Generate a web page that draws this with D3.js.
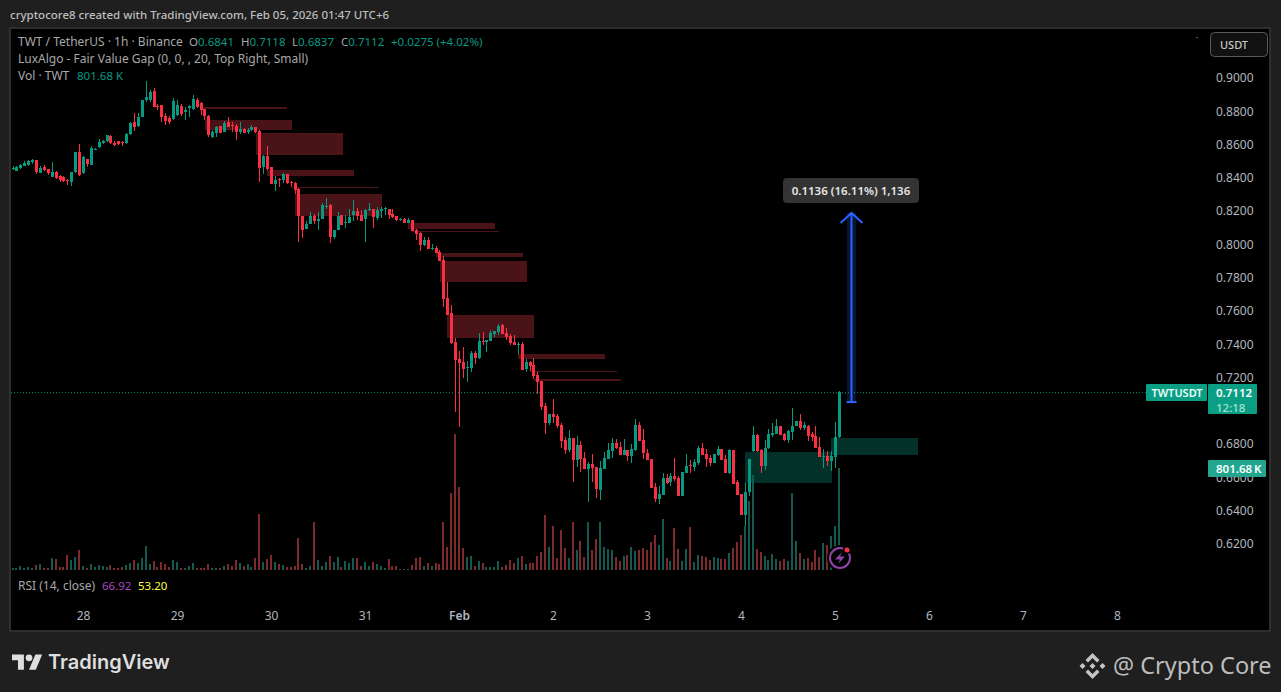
<!DOCTYPE html>
<html>
<head>
<meta charset="utf-8">
<title>TWT / TetherUS</title>
<script src="https://d3js.org/d3.v7.min.js"></script>
<style>
  html, body { margin: 0; padding: 0; background: #1f1f1f; overflow: hidden; }
  text { font-family: "Noto Sans", sans-serif; }
</style>
</head>
<body>
<div id="chart"></div>
<script>
// hourly candles, 27 Jan 06:00 to 5 Feb 01:00 (UTC+6)
var opens = [
  .8455,.8442,.8460,.8472,.8478,.8496,.8508,.8430,.8466,.8454,.8406,.8436,.8412,.8406,.8388,.8376,.8436,.8556,.8430,.8514,
  .8478,.8568,.8586,.8610,.8622,.8652,.8610,.8622,.8616,.8610,.8664,.8736,.8712,.8766,.8868,.8868,.8922,.8832,.8838,.8772,
  .8760,.8754,.8778,.8832,.8796,.8820,.8814,.8868,.8850,.8814,.8772,.8646,.8670,.8712,.8676,.8736,.8718,.8712,.8676,.8694,
  .8676,.8688,.8706,.8682,.8466,.8532,.8466,.8364,.8394,.8388,.8424,.8376,.8370,.8334,.8171,.8093,.8123,.8171,.8141,.8153,
  .8225,.8237,.8045,.8087,.8177,.8129,.8129,.8177,.8201,.8177,.8153,.8207,.8213,.8159,.8201,.8210,.8213,.8183,.8171,.8147,
  .8153,.8129,.8147,.8087,.8069,.7997,.8027,.7973,.7979,.7955,.7906,.7678,.7588,.7414,.7311,.7293,.7257,.7257,.7348,.7317,
  .7420,.7414,.7420,.7462,.7474,.7516,.7468,.7450,.7414,.7396,.7402,.7251,.7293,.7275,.7215,.7179,.7029,.6927,.6981,.6969,
  .6915,.6825,.6765,.6837,.6705,.6795,.6717,.6650,.6681,.6663,.6524,.6650,.6711,.6759,.6807,.6783,.6735,.6765,.6729,.6765,
  .6915,.6825,.6747,.6711,.6542,.6470,.6494,.6596,.6572,.6608,.6596,.6488,.6626,.6675,.6663,.6687,.6777,.6741,.6717,.6687,
  .6735,.6771,.6711,.6626,.6765,.6572,.6500,.6374,.6512,.6759,.6855,.6765,.6669,.6777,.6855,.6861,.6909,.6861,.6825,.6873,
  .6909,.6939,.6897,.6909,.6861,.6849,.6783,.6723,.6729,.6699,.6723,.6841
];
var highs = [
  .8472,.8472,.8484,.8502,.8508,.8514,.8508,.8472,.8478,.8454,.8496,.8442,.8418,.8412,.8394,.8436,.8556,.8604,.8532,.8514,
  .8592,.8580,.8634,.8628,.8658,.8658,.8622,.8622,.8622,.8670,.8736,.8790,.8790,.8868,.8982,.8928,.8940,.8844,.8838,.8790,
  .8772,.8880,.8868,.8844,.8826,.8838,.8898,.8880,.8856,.8814,.8778,.8688,.8712,.8712,.8742,.8766,.8736,.8724,.8736,.8700,
  .8700,.8718,.8706,.8688,.8538,.8592,.8466,.8412,.8400,.8430,.8424,.8382,.8376,.8340,.8171,.8141,.8195,.8183,.8195,.8249,
  .8279,.8243,.8087,.8195,.8177,.8177,.8213,.8267,.8219,.8207,.8213,.8249,.8213,.8225,.8225,.8225,.8213,.8213,.8171,.8159,
  .8159,.8159,.8147,.8093,.8075,.8045,.8045,.8003,.7991,.7967,.7931,.7774,.7636,.7438,.7360,.7384,.7299,.7360,.7360,.7468,
  .7474,.7426,.7486,.7480,.7522,.7522,.7498,.7462,.7456,.7414,.7414,.7311,.7299,.7317,.7233,.7179,.7047,.6981,.7071,.6981,
  .6927,.6843,.6885,.6837,.6849,.6819,.6753,.6693,.6741,.6663,.6699,.6753,.6807,.6837,.6831,.6813,.6831,.6765,.6801,.6951,
  .6933,.6891,.6771,.6711,.6566,.6548,.6626,.6620,.6626,.6717,.6608,.6632,.6741,.6705,.6711,.6789,.6807,.6771,.6735,.6741,
  .6789,.6771,.6735,.6771,.6765,.6584,.6500,.6566,.6711,.6909,.6861,.6771,.6825,.6891,.6927,.6951,.6909,.6867,.6885,.7017,
  .6939,.6981,.6933,.6915,.6873,.6909,.6843,.6771,.6759,.6759,.6933,.7118
];
var lows = [
  .8448,.8442,.8454,.8472,.8472,.8484,.8424,.8430,.8442,.8418,.8406,.8394,.8376,.8376,.8358,.8352,.8430,.8412,.8424,.8466,
  .8478,.8568,.8580,.8604,.8616,.8604,.8592,.8598,.8592,.8604,.8658,.8682,.8706,.8766,.8856,.8856,.8826,.8808,.8736,.8718,
  .8724,.8748,.8772,.8772,.8748,.8766,.8808,.8820,.8778,.8748,.8646,.8640,.8646,.8670,.8676,.8706,.8676,.8628,.8664,.8670,
  .8664,.8682,.8670,.8376,.8424,.8448,.8364,.8322,.8346,.8370,.8364,.8346,.8303,.8015,.8039,.8093,.8123,.8123,.8087,.8153,
  .8213,.8009,.8033,.8087,.8117,.8099,.8129,.8141,.8147,.8141,.8015,.8201,.8099,.8147,.8159,.8177,.8153,.8159,.8141,.8141,
  .8129,.8129,.8081,.8027,.7961,.7991,.7973,.7967,.7949,.7900,.7624,.7576,.7402,.6993,.6903,.7197,.7173,.7233,.7281,.7311,
  .7396,.7354,.7420,.7444,.7456,.7462,.7426,.7396,.7396,.7342,.7245,.7233,.7239,.7191,.7101,.7005,.6861,.6915,.6927,.6897,
  .6777,.6741,.6753,.6572,.6663,.6632,.6650,.6452,.6572,.6476,.6464,.6650,.6711,.6717,.6771,.6735,.6735,.6699,.6687,.6759,
  .6819,.6711,.6705,.6536,.6452,.6440,.6494,.6560,.6548,.6578,.6488,.6488,.6626,.6626,.6638,.6675,.6735,.6663,.6669,.6687,
  .6729,.6705,.6626,.6620,.6560,.6494,.6374,.6308,.6488,.6753,.6753,.6626,.6644,.6771,.6843,.6861,.6855,.6819,.6807,.6825,
  .6909,.6885,.6885,.6819,.6819,.6777,.6723,.6656,.6669,.6638,.6656,.6837
];
var closes = [
  .8461,.8466,.8478,.8490,.8502,.8508,.8436,.8460,.8448,.8430,.8436,.8400,.8388,.8382,.8382,.8436,.8556,.8418,.8526,.8484,
  .8580,.8574,.8616,.8622,.8658,.8610,.8598,.8604,.8610,.8664,.8730,.8706,.8766,.8868,.8886,.8916,.8826,.8826,.8766,.8742,
  .8736,.8862,.8838,.8784,.8808,.8832,.8874,.8826,.8808,.8772,.8658,.8676,.8706,.8670,.8730,.8706,.8712,.8676,.8694,.8670,
  .8688,.8706,.8676,.8460,.8532,.8454,.8364,.8388,.8388,.8424,.8370,.8370,.8328,.8171,.8087,.8123,.8171,.8141,.8153,.8237,
  .8231,.8045,.8087,.8171,.8117,.8135,.8165,.8201,.8171,.8141,.8207,.8213,.8165,.8207,.8213,.8216,.8177,.8165,.8147,.8153,
  .8129,.8147,.8081,.8063,.7997,.8027,.7973,.7979,.7949,.7900,.7672,.7576,.7408,.7305,.7287,.7251,.7263,.7348,.7317,.7420,
  .7414,.7426,.7468,.7480,.7510,.7462,.7444,.7408,.7396,.7402,.7245,.7293,.7269,.7209,.7173,.7023,.6927,.6981,.6963,.6909,
  .6819,.6765,.6837,.6705,.6795,.6711,.6650,.6681,.6656,.6530,.6656,.6717,.6765,.6807,.6777,.6735,.6765,.6729,.6771,.6915,
  .6819,.6747,.6705,.6536,.6470,.6500,.6596,.6566,.6608,.6590,.6488,.6632,.6669,.6669,.6693,.6777,.6735,.6711,.6687,.6741,
  .6771,.6705,.6626,.6765,.6560,.6494,.6374,.6512,.6711,.6855,.6759,.6669,.6777,.6861,.6867,.6909,.6855,.6825,.6879,.6909,
  .6939,.6897,.6915,.6849,.6843,.6777,.6723,.6729,.6699,.6729,.6841,.7112
];
// volume in thousands
var volumes = [
  16,12,31,16,20,16,39,47,16,16,94,86,24,24,118,79,102,157,31,16,
  47,24,39,35,24,39,16,16,24,39,55,79,55,94,189,47,71,24,63,47,
  24,79,63,16,16,31,55,16,16,16,47,16,16,16,31,47,31,79,55,31,
  47,24,94,440,63,86,118,63,47,39,24,24,31,252,47,16,31,377,79,31,
  63,110,63,102,24,71,55,94,94,31,63,31,63,47,31,16,86,31,31,8,
  8,8,39,94,102,31,55,31,55,47,377,181,605,1069,652,173,102,110,31,71,
  55,24,24,24,71,24,39,79,55,94,110,47,55,55,110,141,432,181,346,94,
  314,173,94,377,157,228,102,377,157,244,377,181,165,157,102,71,110,118,181,149,
  157,173,157,220,275,197,401,94,71,330,165,71,165,338,63,118,110,102,79,102,
  94,86,86,134,173,220,275,346,542,747,165,141,110,79,126,86,71,86,71,605,
  228,134,86,94,63,157,102,212,197,267,346,801.68
];

// fair value gaps: first candle (fractional), top and bottom price
var gapStarts  = [47.9, 49.1, 62.2, 65.0, 71.4, 72.1, 101, 102, 108.1, 109.1, 111, 129.1, 132.1, 133.2];
var gapTops    = [.8828, .8748, .8670, .8448, .8346, .8303, .8129, .8081, .7949, .7900, .7576, .7342, .7239, .7191];
var gapBottoms = [.8814, .8688, .8538, .8412, .8340, .8171, .8093, .8075, .7925, .7774, .7438, .7311, .7233, .7179];
var bullStarts  = [187, 209];
var bullTops    = [.6753, .6837];
var bullBottoms = [.6566, .6735];
var gapLength = 22.2;

// 0.7000 sits behind the price tag in the picture
var priceTicks = [.90, .88, .86, .84, .82, .80, .78, .76, .74, .72, .68, .66, .64, .62];
var dayTicks  = [18, 42, 66, 90, 114, 138, 162, 186, 210, 234, 258, 282];
var dayLabels = ["28", "29", "30", "31", "Feb", "2", "3", "4", "5", "6", "7", "8"];

var lastPrice = .7112, lastVolume = 801.68;
var measureFrom = .7053, measureTo = .8189, measureAt = 214;

var green = "#089981", red = "#f92f43";
var greenVol = "#14594f", redVol = "#7d2a2d";

var width = 1281, height = 692;
var svg = d3.select("#chart").append("svg")
  .attr("width", width).attr("height", height)
  .style("display", "block");

var x = d3.scaleLinear().domain([0, 282]).range([12.5, 1117]);
var y = d3.scaleLinear().domain([.62, .90]).range([544, 78]);
var yVol = d3.scaleLinear().domain([0, 1000]).range([570, 442.8]);

// panel
svg.append("rect").attr("x", 10).attr("y", 28).attr("width", 1260).attr("height", 603)
  .attr("fill", "#000").attr("stroke", "#2e2e2e").attr("stroke-width", 2);

svg.append("defs").append("clipPath").attr("id", "pane")
  .append("rect").attr("x", 11).attr("y", 29).attr("width", 1258).attr("height", 560);
var pane = svg.append("g").attr("clip-path", "url(#pane)");

// gaps sit under the candles
function drawGaps(starts, tops, bottoms, color) {
  pane.append("g").attr("shape-rendering", "crispEdges").selectAll("rect")
    .data(starts).enter().append("rect")
    .attr("x", function (d) { return x(d); })
    .attr("width", function (d) { return x(d + gapLength) - x(d); })
    .attr("y", function (d, i) { return y(tops[i]); })
    .attr("height", function (d, i) { return Math.max(1, y(bottoms[i]) - y(tops[i])); })
    .attr("fill", color);
}
drawGaps(gapStarts, gapTops, gapBottoms, "#4a1318");
drawGaps(bullStarts, bullTops, bullBottoms, "#04302a");

// last price line
pane.append("line")
  .attr("x1", 11).attr("x2", 1146)
  .attr("y1", y(lastPrice) + .5).attr("y2", y(lastPrice) + .5)
  .attr("stroke", green).attr("stroke-width", 1).attr("stroke-dasharray", "1 2");

var idx = d3.range(closes.length);
function candleColor(i, up, down) { return closes[i] >= opens[i] ? up : down; }

// volume
pane.append("g").attr("shape-rendering", "crispEdges").selectAll("rect")
  .data(idx).enter().append("rect")
  .attr("x", function (i) { return Math.round(x(i)) - 1; })
  .attr("width", 2)
  .attr("y", function (i) { return yVol(volumes[i]); })
  .attr("height", function (i) { return yVol(0) - yVol(volumes[i]); })
  .attr("fill", function (i) { return candleColor(i, greenVol, redVol); });

// candles
var candles = pane.append("g").attr("shape-rendering", "crispEdges").selectAll("g")
  .data(idx).enter().append("g");
candles.append("line")
  .attr("x1", function (i) { return Math.round(x(i)) + .5; })
  .attr("x2", function (i) { return Math.round(x(i)) + .5; })
  .attr("y1", function (i) { return y(highs[i]); })
  .attr("y2", function (i) { return y(lows[i]); })
  .attr("stroke", function (i) { return candleColor(i, green, red); });
candles.append("rect")
  .attr("x", function (i) { return Math.round(x(i)) - 1; })
  .attr("width", 3)
  .attr("y", function (i) { return y(Math.max(opens[i], closes[i])); })
  .attr("height", function (i) { return Math.max(1, Math.abs(y(opens[i]) - y(closes[i]))); })
  .attr("fill", function (i) { return candleColor(i, green, red); });

// price measure
var mx = Math.round(x(measureAt)) + .5;
var measure = svg.append("g");
measure.append("rect").attr("x", mx - 4.5).attr("width", 9)
  .attr("y", y(measureTo)).attr("height", y(measureFrom) - y(measureTo))
  .attr("fill", "#2962ff").attr("opacity", .2);
measure.append("line").attr("x1", mx).attr("x2", mx)
  .attr("y1", y(measureFrom)).attr("y2", y(measureTo))
  .attr("stroke", "#2962ff").attr("stroke-width", 2);
measure.append("line").attr("x1", mx - 5).attr("x2", mx + 5)
  .attr("y1", y(measureFrom)).attr("y2", y(measureFrom))
  .attr("stroke", "#2962ff").attr("stroke-width", 2);
measure.append("path")
  .attr("d", "M" + (mx - 11) + "," + (y(measureTo) + 10) + "L" + mx + "," + y(measureTo) + "L" + (mx + 11) + "," + (y(measureTo) + 10))
  .attr("fill", "none").attr("stroke", "#2962ff").attr("stroke-width", 2);
measure.append("rect").attr("x", 783).attr("y", 178).attr("width", 136).attr("height", 25)
  .attr("rx", 4).attr("fill", "#333333");
measure.append("text").attr("x", 851).attr("y", 194.5).attr("text-anchor", "middle")
  .attr("fill", "#e8e8e8").attr("font-size", 11.5).attr("font-weight", 600)
  .text("0.1136 (16.11%) 1,136");

// price axis
var priceAxis = svg.append("g")
  .attr("transform", "translate(1206,0)")
  .call(d3.axisRight(y).tickValues(priceTicks).tickSize(0).tickPadding(10).tickFormat(d3.format(".4f")));
priceAxis.select(".domain").remove();
priceAxis.selectAll("text").attr("fill", "#b2b5be").attr("font-size", 12).style("font-family", '"Noto Sans", sans-serif');

// time axis
var timeAxis = svg.append("g")
  .attr("transform", "translate(0,606)")
  .call(d3.axisBottom(x).tickValues(dayTicks).tickSize(0).tickPadding(5)
    .tickFormat(function (d, i) { return dayLabels[i]; }));
timeAxis.select(".domain").remove();
timeAxis.selectAll("text").attr("fill", "#b2b5be").attr("font-size", 12)
  .attr("font-weight", function (d, i) { return dayLabels[i] == "Feb" ? 600 : 400; })
  .style("font-family", '"Noto Sans", sans-serif');

// price and volume tags
var tags = svg.append("g");
tags.append("rect").attr("x", 1146).attr("y", 384).attr("width", 61).attr("height", 17).attr("rx", 1).attr("fill", "#0a9e84");
tags.append("text").attr("x", 1177).attr("y", 397).attr("text-anchor", "middle")
  .attr("fill", "#eafff9").attr("font-size", 11).attr("font-weight", 600).text("TWTUSDT");
tags.append("rect").attr("x", 1208).attr("y", 384).attr("width", 49).attr("height", 30).attr("rx", 1).attr("fill", "#0a9e84");
tags.append("text").attr("x", 1216).attr("y", 396.5).attr("fill", "#fff").attr("font-size", 11.5).attr("font-weight", 600)
  .text(d3.format(".4f")(lastPrice));
tags.append("text").attr("x", 1216).attr("y", 411.5).attr("fill", "#a5e0d3").attr("font-size", 11.5).attr("font-weight", 500).text("12:18");
tags.append("rect").attr("x", 1208).attr("y", 460).attr("width", 58).attr("height", 17).attr("rx", 1).attr("fill", "#22a68f");
var volTag = tags.append("text").attr("x", 1216).attr("y", 473).attr("fill", "#fff").attr("font-size", 11.5).attr("font-weight", 600)
  .text(lastVolume);
volTag.append("tspan").attr("dx", 2).text("K");

// USDT button
svg.append("rect").attr("x", 1210.5).attr("y", 32.5).attr("width", 57).attr("height", 24).attr("rx", 4)
  .attr("fill", "#111").attr("stroke", "#5a5a5a");
svg.append("text").attr("x", 1234).attr("y", 48.5).attr("text-anchor", "middle")
  .attr("fill", "#c8c8c8").attr("font-size", 11).attr("font-weight", 500).text("USDT");
svg.append("rect").attr("x", 1196).attr("y", 37).attr("width", 2).attr("height", 1).attr("fill", "#555");

// legend
function label(px, py, str, color, size, weight) {
  return svg.append("text").attr("x", px).attr("y", py).attr("fill", color)
    .attr("font-size", size || 11.5).attr("font-weight", weight || 400).text(str);
}
var gray = "#a8a8a8", teal = "#089981";
label(10, 19, "cryptocore8 created with TradingView.com, Feb 05, 2026 01:47 UTC+6", "#bdbdbd", 11.5, 500);
label(18, 46, "TWT / TetherUS · 1h · Binance", gray, 12);
[["O", "0.6841", 189], ["H", "0.7118", 241], ["L", "0.6837", 292], ["C", "0.7112", 341]].forEach(function (d) {
  var t = label(d[2], 46, d[0], gray);
  t.append("tspan").attr("fill", teal).text(d[1]);
});
label(391, 46, "+0.0275 (+4.02%)", teal);
label(18, 63, "LuxAlgo - Fair Value Gap (0, 0, , 20, Top Right, Small)", gray, 12);
label(18, 80, "Vol · TWT", gray, 12);
label(77, 80, "801.68 K", teal);
label(18, 590, "RSI (14, close)", gray, 12);
label(102, 590, "66.92", "#ab47bc", 11.5);
label(138, 590, "53.20", "#ffff3b", 11.5);

// alert badge
var badge = svg.append("g").attr("transform", "translate(840,558)");
badge.append("circle").attr("r", 13).attr("fill", "#000");
badge.append("circle").attr("r", 10).attr("fill", "none").attr("stroke", "#8e44a8").attr("stroke-width", 2);
badge.append("path").attr("d", "M2,-6L-5,1.5H0L-2,6L5,-1.5H0Z").attr("fill", "#8e44a8");
badge.append("circle").attr("cx", 7).attr("cy", -8).attr("r", 4).attr("fill", "#000");
badge.append("circle").attr("cx", 7).attr("cy", -8).attr("r", 2.5).attr("fill", red);

// TradingView logo
svg.append("g").attr("transform", "translate(12,651) scale(.85)")
  .append("path")
  .attr("d", "M14 22H7V11H0V4h14v18zM28 22h-8l7.5-18h8L28 22zM20 4a4 4 0 1 1 0 8 4 4 0 0 1 0-8z")
  .attr("fill", "#dedede");
svg.append("text").attr("x", 48).attr("y", 669).attr("fill", "#dedede")
  .attr("font-size", 20).attr("font-weight", 600).style("font-family", "Inter, sans-serif").text("TradingView");

// Binance mark and handle
svg.append("g").attr("transform", "translate(1092.5,666)")
  .append("path")
  .attr("d", "M0,-13L7,-6L4.5,-3.5L0,-8L-4.5,-3.5L-7,-6ZM0,13L7,6L4.5,3.5L0,8L-4.5,3.5L-7,6ZM-13,0L-10,-3L-7,0L-10,3ZM13,0L10,-3L7,0L10,3ZM0,-3L3,0L0,3L-3,0Z")
  .attr("fill", "#c4c4c4");
svg.append("text").attr("x", 1113).attr("y", 674).attr("fill", "#bdbdbd")
  .attr("font-size", 23.5).text("@ Crypto Core");
</script>
</body>
</html>
